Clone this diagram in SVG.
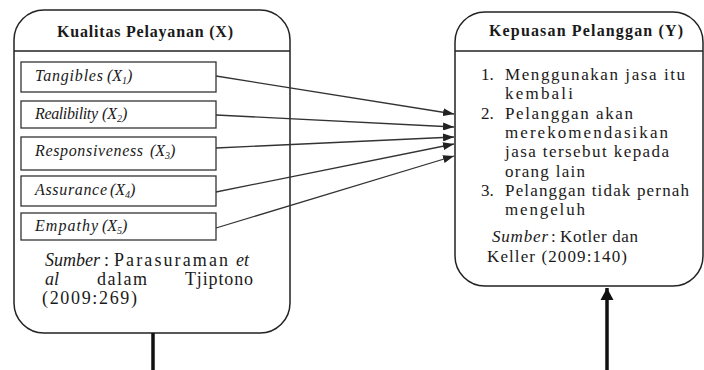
<svg xmlns="http://www.w3.org/2000/svg" width="704" height="370" viewBox="0 0 704 370">
<defs>
<style>
.frame{fill:#fff;stroke:#222;stroke-width:1.5}
.box{fill:#fff;stroke:#333;stroke-width:1.3}
.t{font-family:"Liberation Serif","Times New Roman",serif;font-size:17px;fill:#1a1a1a}
.s{font-family:"Liberation Serif","Times New Roman",serif;font-size:18px;fill:#1a1a1a}
.h{font-family:"Liberation Serif","Times New Roman",serif;font-size:16px;font-weight:bold;fill:#1a1a1a}
.i{font-family:"Liberation Serif","Times New Roman",serif;font-size:16px;font-style:italic;fill:#1a1a1a}
.sub{font-size:10px}
.arr{stroke:#333;stroke-width:1.3;fill:none;marker-end:url(#ah)}
.thick{stroke:#111;stroke-width:3.5;fill:none}
</style>
<marker id="ah" markerUnits="userSpaceOnUse" markerWidth="12" markerHeight="8" refX="11" refY="4" orient="auto">
<path d="M0,0 L11,4 L0,8 z" fill="#222"/>
</marker>
<marker id="ahb" markerUnits="userSpaceOnUse" markerWidth="14" markerHeight="14" refX="12" refY="7" orient="auto">
<path d="M0,0.5 L12,7 L0,13.5 z" fill="#111"/>
</marker>
</defs>

<g id="kualitas-pelayanan">
<rect class="frame" x="14" y="10" width="276" height="323" rx="30" ry="30"/>
<line x1="14" y1="51" x2="290" y2="51" stroke="#222" stroke-width="1.5"/>
<text class="h" x="57" y="37" textLength="176" lengthAdjust="spacing">Kualitas Pelayanan (X)</text>
<text class="s" y="266"><tspan x="45" font-style="italic" textLength="55" lengthAdjust="spacing">Sumber</tspan><tspan x="104">:</tspan><tspan x="114" textLength="114" lengthAdjust="spacing">Parasuraman</tspan><tspan x="236" font-style="italic">et</tspan></text>
<text class="s" y="285"><tspan x="45" font-style="italic">al</tspan><tspan x="97" textLength="50" lengthAdjust="spacing">dalam</tspan><tspan x="185" textLength="68" lengthAdjust="spacing">Tjiptono</tspan></text>
<text class="s" x="42" y="304" textLength="95" lengthAdjust="spacing">(2009:269)</text>
</g>

<g id="x1">
<rect class="box" x="21" y="62" width="195" height="30"/>
<text class="i" x="35" y="81" textLength="68" lengthAdjust="spacing">Tangibles</text>
<text class="i" x="107" y="81">(X<tspan class="sub" dy="3">1</tspan><tspan dy="-3">)</tspan></text>
</g>
<g id="x2">
<rect class="box" x="21" y="101" width="195" height="27"/>
<text class="i" x="35" y="119" textLength="63" lengthAdjust="spacing">Realibility</text>
<text class="i" x="102" y="119">(X<tspan class="sub" dy="3">2</tspan><tspan dy="-3">)</tspan></text>
</g>
<g id="x3">
<rect class="box" x="21" y="137" width="195" height="33"/>
<text class="i" x="35" y="156" textLength="108" lengthAdjust="spacing">Responsiveness</text>
<text class="i" x="150" y="156">(X<tspan class="sub" dy="3">3</tspan><tspan dy="-3">)</tspan></text>
</g>
<g id="x4">
<rect class="box" x="21" y="176" width="195" height="30"/>
<text class="i" x="35" y="195" textLength="72" lengthAdjust="spacing">Assurance</text>
<text class="i" x="110" y="195">(X<tspan class="sub" dy="3">4</tspan><tspan dy="-3">)</tspan></text>
</g>
<g id="x5">
<rect class="box" x="21" y="213" width="195" height="27"/>
<text class="i" x="35" y="231" textLength="63" lengthAdjust="spacing">Empathy</text>
<text class="i" x="102" y="231">(X<tspan class="sub" dy="3">5</tspan><tspan dy="-3">)</tspan></text>
</g>

<g id="kepuasan-pelanggan">
<rect class="frame" x="455" y="12" width="248" height="274" rx="30" ry="30"/>
<line x1="455" y1="51" x2="703" y2="51" stroke="#222" stroke-width="1.5"/>
<text class="h" x="489" y="36" textLength="194" lengthAdjust="spacing">Kepuasan Pelanggan (Y)</text>
<text class="t" x="481" y="80">1.</text>
<text class="t" x="505" y="80" textLength="180" lengthAdjust="spacing">Menggunakan jasa itu</text>
<text class="t" x="505" y="99" textLength="68" lengthAdjust="spacing">kembali</text>
<text class="t" x="481" y="119">2.</text>
<text class="t" x="505" y="119" textLength="128" lengthAdjust="spacing">Pelanggan akan</text>
<text class="t" x="505" y="138" textLength="163" lengthAdjust="spacing">merekomendasikan</text>
<text class="t" x="505" y="157" textLength="164" lengthAdjust="spacing">jasa tersebut kepada</text>
<text class="t" x="505" y="177" textLength="80" lengthAdjust="spacing">orang lain</text>
<text class="t" x="481" y="196">3.</text>
<text class="t" x="505" y="196" textLength="184" lengthAdjust="spacing">Pelanggan tidak pernah</text>
<text class="t" x="505" y="215" textLength="80" lengthAdjust="spacing">mengeluh</text>
<text class="t" y="242"><tspan x="492" font-style="italic" textLength="56" lengthAdjust="spacing">Sumber</tspan><tspan x="551">:</tspan><tspan x="560" textLength="78" lengthAdjust="spacing">Kotler dan</tspan></text>
<text class="t" x="487" y="262" textLength="140" lengthAdjust="spacing">Keller (2009:140)</text>
</g>

<g id="connectors">
<line class="arr" x1="216" y1="76" x2="454" y2="114"/>
<line class="arr" x1="216" y1="115" x2="454" y2="127"/>
<line class="arr" x1="216" y1="148" x2="454" y2="137"/>
<line class="arr" x1="216" y1="192" x2="454" y2="144"/>
<line class="arr" x1="216" y1="228" x2="454" y2="156"/>
<line class="thick" x1="153" y1="333" x2="153" y2="370"/>
<line class="thick" x1="607" y1="370" x2="607" y2="288" marker-end="url(#ahb)"/>
</g>
</svg>
